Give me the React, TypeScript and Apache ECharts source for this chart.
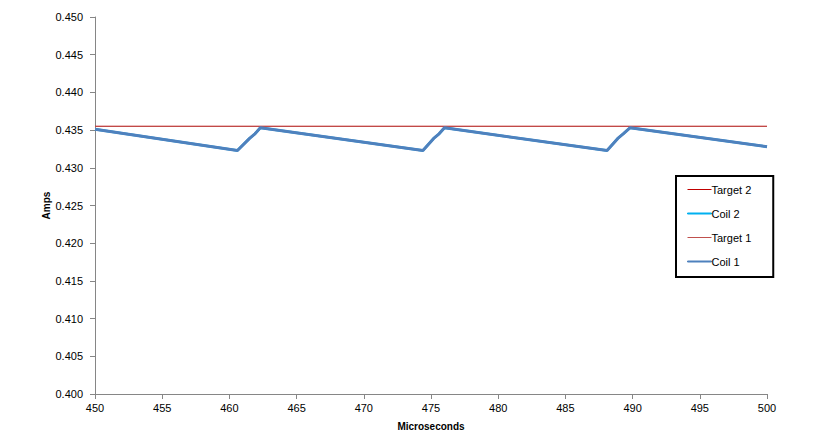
import React, { useEffect, useRef } from "react";
import * as echarts from "echarts";

const seriesNames = ["Target 2", "Coil 2", "Target 1", "Coil 1"];
const seriesColors = ["#C00000", "#00B0F0", "#C0504D", "#4F81BD"];
const targetLevel = 0.4355;
const targetX = [450, 500];
const coilPoints: [number, number][] = [
  [450, 0.4351],
  [460.6, 0.4323],
  [461.5, 0.4339],
  [461.9, 0.4345],
  [462.3, 0.4353],
  [474.4, 0.4323],
  [475.2, 0.4339],
  [475.6, 0.4345],
  [476.0, 0.4353],
  [488.1, 0.4323],
  [488.9, 0.4339],
  [489.3, 0.4345],
  [489.8, 0.4353],
  [500, 0.4328],
];
const xTicks = [450, 455, 460, 465, 470, 475, 480, 485, 490, 495, 500];
const yTicks = [0.4, 0.405, 0.41, 0.415, 0.42, 0.425, 0.43, 0.435, 0.44, 0.445, 0.45];

export default function App() {
  const ref = useRef<HTMLDivElement>(null);
  useEffect(() => {
    if (!ref.current) return;
    const chart = echarts.init(ref.current, undefined, { renderer: "svg" });
    const font = "'Liberation Sans', Arial, sans-serif";
    const axisLine = { lineStyle: { color: "#868686", width: 1 } };
    const targetData = targetX.map((x) => [x, targetLevel]);
    const legendData = seriesNames.map((name, i) => ({
      name,
      icon: "rect",
      itemStyle: {
        color: seriesColors[i],
        borderColor: seriesColors[i],
        borderWidth: name.startsWith("Coil") ? 1 : 0,
      },
    }));
    chart.setOption({
      animation: false,
      backgroundColor: "#ffffff",
      textStyle: { fontFamily: font },
      grid: { left: 95, right: 52, top: 17, bottom: 35 },
      legend: {
        orient: "vertical",
        left: 676,
        top: 176,
        data: legendData,
        itemWidth: 24,
        itemHeight: 1,
        itemGap: 13,
        padding: [8, 22, 10, 11],
        borderColor: "#000000",
        borderWidth: 2,
        textStyle: { fontSize: 11, color: "#000000", fontFamily: font, padding: [0, 0, 0, -5] },
      },
      xAxis: {
        type: "value",
        min: xTicks[0],
        max: xTicks[xTicks.length - 1],
        interval: 5,
        name: "Microseconds",
        nameLocation: "middle",
        nameGap: 27,
        nameTextStyle: { fontWeight: "bold", fontSize: 10, color: "#000", fontFamily: font },
        axisLine,
        axisTick: { show: true, inside: false, length: 5, lineStyle: { color: "#868686" } },
        axisLabel: { color: "#000", fontSize: 11, margin: 8, fontFamily: font },
        splitLine: { show: false },
      },
      yAxis: {
        type: "value",
        min: yTicks[0],
        max: yTicks[yTicks.length - 1],
        interval: 0.005,
        name: "Amps",
        nameLocation: "middle",
        nameRotate: 90,
        nameGap: 44,
        nameMoveOverlap: false,
        nameTextStyle: { fontWeight: "bold", fontSize: 10, color: "#000", fontFamily: font },
        axisLine: { show: true, ...axisLine },
        axisTick: { show: true, inside: false, length: 5, lineStyle: { color: "#868686" } },
        axisLabel: {
          color: "#000",
          fontSize: 11,
          margin: 12,
          fontFamily: font,
          formatter: (v: number) => v.toFixed(3),
        },
        splitLine: { show: false },
      },
      series: [
        {
          name: "Target 2",
          type: "line",
          data: targetData,
          symbol: "none",
          lineStyle: { color: seriesColors[0], width: 1 },
          itemStyle: { color: seriesColors[0] },
          z: 2,
        },
        {
          name: "Coil 2",
          type: "line",
          data: coilPoints,
          symbol: "none",
          lineStyle: { color: seriesColors[1], width: 2.5 },
          itemStyle: { color: seriesColors[1] },
          z: 2,
        },
        {
          name: "Target 1",
          type: "line",
          data: targetData,
          symbol: "none",
          lineStyle: { color: seriesColors[2], width: 1 },
          itemStyle: { color: seriesColors[2] },
          z: 3,
        },
        {
          name: "Coil 1",
          type: "line",
          data: coilPoints,
          symbol: "none",
          lineStyle: { color: seriesColors[3], width: 3 },
          itemStyle: { color: seriesColors[3] },
          z: 4,
        },
      ],
    });
    return () => chart.dispose();
  }, []);
  return (
    <div
      ref={ref}
      style={{ position: "fixed", left: 0, top: 0, width: 819, height: 436, background: "#fff" }}
    />
  );
}
